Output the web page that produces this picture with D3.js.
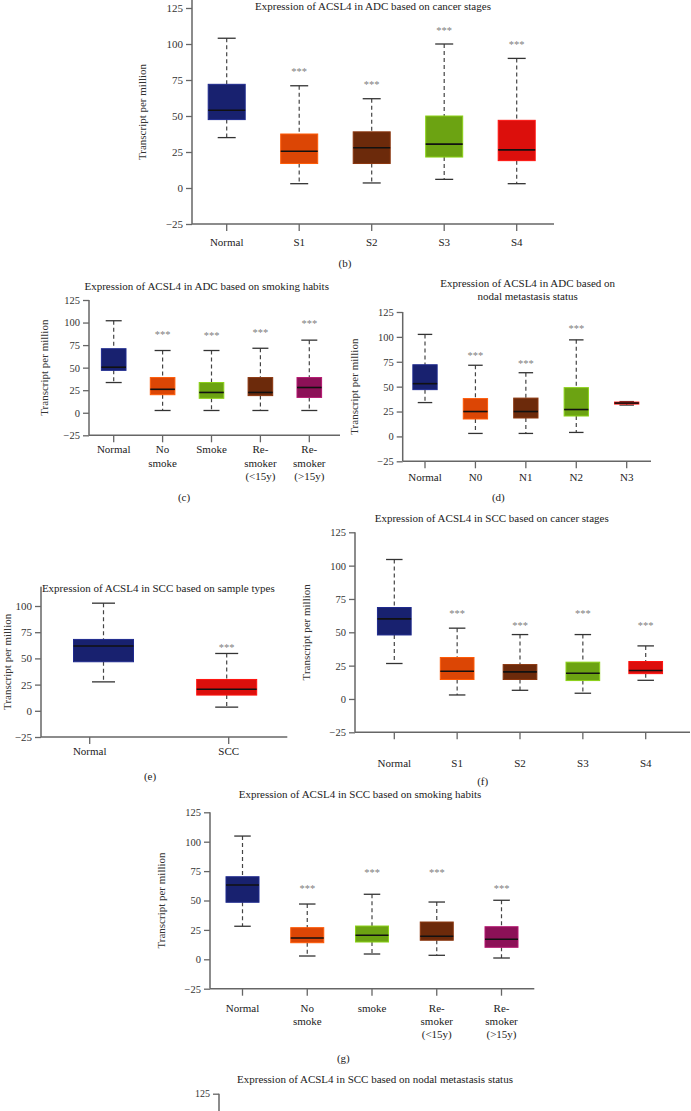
<!DOCTYPE html>
<html><head><meta charset="utf-8">
<script src="https://cdn.jsdelivr.net/npm/d3@7"></script>
<style>
body{margin:0;background:#fff}
svg{display:block}
text{font-family:"Liberation Serif","Times New Roman",serif}
</style>
</head><body>
<svg id="chart" width="691" height="1111"></svg>
<script>
// ---------------- DATA ----------------
const yTicksFull = [-25, 0, 25, 50, 75, 100, 125];
const yTicksE = [-25, 0, 25, 50, 75, 100];
const yLabel = "Transcript per million";

// (b) ADC by cancer stages
const bTitle = ["Expression of ACSL4 in ADC based on cancer stages"];
const bCategories = ["Normal", "S1", "S2", "S3", "S4"];
const bLow    = [35, 3, 3.5, 6, 3];
const bQ1     = [47.5, 17, 17, 21.5, 19];
const bMedian = [54, 25.5, 28, 30.5, 26.5];
const bQ3     = [72, 37.5, 39, 50, 47];
const bHigh   = [104, 71, 62, 100, 90];
const bStars  = [null, 82, 73, 111, 101];

// (c) ADC by smoking habits
const cTitle = ["Expression of ACSL4 in ADC based on smoking habits"];
const cCategories = ["Normal", "No\nsmoke", "Smoke", "Re-\nsmoker\n(<15y)", "Re-\nsmoker\n(>15y)"];
const cLow    = [33.5, 2.5, 2.5, 2.5, 2.5];
const cQ1     = [47, 20, 16, 19, 17];
const cMedian = [50.5, 26, 22.5, 22.5, 28];
const cQ3     = [71, 39, 33.5, 39, 39];
const cHigh   = [102, 69, 69, 71.5, 80.5];
const cStars  = [null, 89, 88, 91, 101];

// (d) ADC by nodal metastasis status
const dTitle = ["Expression of ACSL4 in ADC based on", "nodal metastasis status"];
const dCategories = ["Normal", "N0", "N1", "N2", "N3"];
const dLow    = [34, 3, 3, 4, 31.5];
const dQ1     = [47, 17.5, 18.5, 20.5, 32.5];
const dMedian = [53, 25, 25, 27, 33.5];
const dQ3     = [72, 38, 38.5, 49, 34.5];
const dHigh   = [102.5, 71.5, 64, 97, 35];
const dStars  = [null, 83, 75.5, 110, null];

// (e) SCC by sample types
const eTitle = ["Expression of ACSL4 in SCC based on sample types"];
const eCategories = ["Normal", "SCC"];
const eLow    = [27.6, 3.5];
const eQ1     = [46.8, 15];
const eMedian = [61.9, 20.5];
const eQ3     = [68.1, 29.9];
const eHigh   = [102.7, 54.7];
const eStars  = [null, 62.2];

// (f) SCC by cancer stages
const fTitle = ["Expression of ACSL4 in SCC based on cancer stages"];
const fCategories = ["Normal", "S1", "S2", "S3", "S4"];
const fLow    = [26.6, 3, 6.5, 4.3, 14];
const fQ1     = [48, 14.6, 14.6, 13.8, 19];
const fMedian = [60.1, 20.8, 20.3, 19.3, 21.3];
const fQ3     = [68.6, 31.1, 25.8, 27.6, 28.1];
const fHigh   = [104.6, 53.1, 48.3, 48.3, 39.8];
const fStars  = [null, 65.3, 56.3, 65.3, 56.3];

// (g) SCC by smoking habits
const gTitle = ["Expression of ACSL4 in SCC based on smoking habits"];
const gCategories = ["Normal", "No\nsmoke", "smoke", "Re-\nsmoker\n(<15y)", "Re-\nsmoker\n(>15y)"];
const gLow    = [28.1, 2.8, 4.5, 3.4, 1.1];
const gQ1     = [48.5, 14.1, 14.7, 16.2, 10.2];
const gMedian = [63.2, 18.1, 20.4, 19.6, 17];
const gQ3     = [70.2, 26.9, 28.3, 31.7, 27.7];
const gHigh   = [104.8, 47, 55.3, 48.7, 50.2];
const gStars  = [null, 62.3, 75.7, 75.7, 62.3];

// (h) SCC by nodal metastasis status (only top visible)
const hTitle = ["Expression of ACSL4 in SCC based on nodal metastasis status"];
const hTicks = [125];

// ---------------- STYLE ----------------
const NAVY = "#18216f", ORANGE = "#dc4605", BROWN = "#6c2a0b",
      GREEN = "#6ca312", RED = "#dc0f0c", MAGENTA = "#8c1157";

const svg = d3.select("#chart");

function rows(cats, lo, q1, med, q3, hi, st) {
  return cats.map((c, i) => ({cat: c, lo: lo[i], q1: q1[i], med: med[i], q3: q3[i], hi: hi[i], star: st[i]}));
}

function drawPanel(p) {
  const g = svg.append("g");
  const y = d3.scaleLinear().domain(p.domain).range(p.range);
  const axisColor = "#666";

  // title
  p.title.forEach((t, i) => {
    g.append("text").attr("x", p.titleX).attr("y", p.titleY[i])
      .attr("text-anchor", "middle").attr("dominant-baseline", "central")
      .attr("font-size", 11).attr("fill", "#222").text(t);
  });

  // y axis
  const ya = g.append("g").attr("transform", `translate(${p.axisX},0)`)
    .call(d3.axisLeft(y).tickValues(p.yTicks).tickSize(6).tickPadding(3)
      .tickFormat(d => d < 0 ? "\u2212" + Math.abs(d) : d));
  ya.select(".domain").remove();
  ya.selectAll(".tick line").attr("stroke", axisColor).attr("stroke-width", 1.3);
  ya.selectAll(".tick text").attr("font-size", p.tickFs).attr("fill", "#333")
    .attr("font-family", '"Liberation Serif","Times New Roman",serif');
  g.append("line").attr("x1", p.axisX).attr("x2", p.axisX)
    .attr("y1", p.axisTop).attr("y2", p.axisBottom !== undefined ? p.axisBottom : y(p.domain[0]))
    .attr("stroke", axisColor).attr("stroke-width", 1.5);

  if (p.ylabelX !== undefined) {
    const yc = (p.axisTop + y(p.domain[0])) / 2;
    g.append("text").attr("transform", `translate(${p.ylabelX},${yc}) rotate(-90)`)
      .attr("text-anchor", "middle").attr("dominant-baseline", "central")
      .attr("font-size", 11).attr("fill", "#333").text(yLabel);
  }

  if (!p.data) return;

  const cats = p.data.map(d => d.cat);
  const x = d3.scalePoint().domain(cats).range(p.xRange);
  const xb = p.boxRange ? d3.scalePoint().domain(cats).range(p.boxRange) : x;
  const y0 = y(p.domain[0]);

  // x axis
  g.append("line").attr("x1", p.axisX).attr("x2", p.axisRight)
    .attr("y1", y0).attr("y2", y0).attr("stroke", axisColor).attr("stroke-width", 1.5);
  cats.forEach(c => {
    g.append("line").attr("x1", x(c)).attr("x2", x(c)).attr("y1", y0).attr("y2", y0 + 7)
      .attr("stroke", axisColor).attr("stroke-width", 1.3);
    const lines = c.split("\n");
    const t = g.append("text").attr("text-anchor", "middle").attr("font-size", p.catFs)
      .attr("fill", "#222");
    lines.forEach((l, i) => {
      t.append("tspan").attr("x", x(c)).attr("y", y0 + p.labelDy + i * 13.3)
        .attr("dominant-baseline", "central").text(l);
    });
  });

  // boxes
  p.data.forEach((d, i) => {
    const cx = xb(d.cat);
    const col = p.colors[i];
    g.append("line").attr("x1", cx).attr("x2", cx).attr("y1", y(d.hi)).attr("y2", y(d.q3))
      .attr("stroke", "#444").attr("stroke-width", 1.2).attr("stroke-dasharray", "4,3");
    g.append("line").attr("x1", cx).attr("x2", cx).attr("y1", y(d.q1)).attr("y2", y(d.lo))
      .attr("stroke", "#444").attr("stroke-width", 1.2).attr("stroke-dasharray", "4,3");
    [d.hi, d.lo].forEach(v => {
      g.append("line").attr("x1", cx - p.capW / 2).attr("x2", cx + p.capW / 2)
        .attr("y1", y(v)).attr("y2", y(v)).attr("stroke", "#333").attr("stroke-width", 1.3);
    });
    g.append("rect").attr("x", cx - p.boxW / 2).attr("width", p.boxW)
      .attr("y", y(d.q3)).attr("height", Math.max(1, y(d.q1) - y(d.q3)))
      .attr("fill", col).attr("stroke", d3.color(col).brighter(0.7)).attr("stroke-width", 1);
    g.append("line").attr("x1", cx - p.boxW / 2).attr("x2", cx + p.boxW / 2)
      .attr("y1", y(d.med)).attr("y2", y(d.med)).attr("stroke", "#111").attr("stroke-width", 1.6);
    if (d.star != null) {
      g.append("text").attr("x", cx).attr("y", y(d.star) + 5.5)
        .attr("text-anchor", "middle").attr("font-size", 10.5).attr("fill", "#808080").text("***");
    }
  });

  g.append("text").attr("x", p.capX).attr("y", p.capY).attr("text-anchor", "middle")
    .attr("dominant-baseline", "central").attr("font-size", 11).attr("fill", "#222").text(p.caption);
}

const panels = [
  {title: bTitle, titleX: 373, titleY: [6], data: rows(bCategories, bLow, bQ1, bMedian, bQ3, bHigh, bStars),
   colors: [NAVY, ORANGE, BROWN, GREEN, RED], domain: [-25, 125], range: [224, 8], yTicks: yTicksFull,
   axisX: 192, axisRight: 554, axisTop: 0, xRange: [226.7, 516.7], boxW: 37, capW: 18,
   labelDy: 18, tickFs: 11, catFs: 11, ylabelX: 142, caption: "(b)", capX: 345, capY: 263},
  {title: cTitle, titleX: 206.7, titleY: [286], data: rows(cCategories, cLow, cQ1, cMedian, cQ3, cHigh, cStars),
   colors: [NAVY, ORANGE, GREEN, BROWN, MAGENTA], domain: [-25, 125], range: [435.3, 300], yTicks: yTicksFull,
   axisX: 89, axisRight: 340, axisTop: 300, xRange: [113.7, 309.3], boxW: 24.6, capW: 16,
   labelDy: 14, tickFs: 10.5, catFs: 11, ylabelX: 44.3, caption: "(c)", capX: 184, capY: 497},
  {title: dTitle, titleX: 527.7, titleY: [282.7, 296], data: rows(dCategories, dLow, dQ1, dMedian, dQ3, dHigh, dStars),
   colors: [NAVY, ORANGE, BROWN, GREEN, RED], domain: [-25, 125], range: [461.3, 312], yTicks: yTicksFull,
   axisX: 402.7, axisRight: 651, axisTop: 312, xRange: [425, 626.7], boxW: 24.3, capW: 14.5,
   labelDy: 15.4, tickFs: 10.5, catFs: 11, ylabelX: 354, caption: "(d)", capX: 498.3, capY: 497},
  {title: eTitle, titleX: 158.3, titleY: [588.3], data: rows(eCategories, eLow, eQ1, eMedian, eQ3, eHigh, eStars),
   colors: [NAVY, RED], domain: [-25, 100], range: [737, 606], yTicks: yTicksE,
   axisX: 41, axisRight: 287.3, axisTop: 586.7, xRange: [89.7, 228.7], boxRange: [103.5, 226.7], boxW: 60, capW: 23,
   labelDy: 14, tickFs: 11, catFs: 11, ylabelX: 7, caption: "(e)", capX: 150, capY: 776},
  {title: fTitle, titleX: 491.7, titleY: [518.3], data: rows(fCategories, fLow, fQ1, fMedian, fQ3, fHigh, fStars),
   colors: [NAVY, ORANGE, BROWN, GREEN, RED], domain: [-25, 125], range: [732.3, 532.3], yTicks: yTicksFull,
   axisX: 355, axisRight: 690, axisTop: 532.3, xRange: [394.3, 645.7], boxW: 33.7, capW: 16.5,
   labelDy: 30.4, tickFs: 10.5, catFs: 11, ylabelX: 305.7, caption: "(f)", capX: 482.7, capY: 781},
  {title: gTitle, titleX: 360, titleY: [794], data: rows(gCategories, gLow, gQ1, gMedian, gQ3, gHigh, gStars),
   colors: [NAVY, ORANGE, GREEN, BROWN, MAGENTA], domain: [-25, 125], range: [988.7, 812.3], yTicks: yTicksFull,
   axisX: 210, axisRight: 534.3, axisTop: 812.3, xRange: [242.5, 501.5], boxW: 33, capW: 16.5,
   labelDy: 19, tickFs: 10.5, catFs: 11, ylabelX: 160.7, caption: "(g)", capX: 343.3, capY: 1057.7},
  {title: hTitle, titleX: 375, titleY: [1079.3], data: null,
   domain: [-25, 125], range: [1270, 1093.7], yTicks: hTicks,
   axisX: 219, axisTop: 1093.7, axisBottom: 1111, tickFs: 10}
];

panels.forEach(drawPanel);
</script>
</body></html>
